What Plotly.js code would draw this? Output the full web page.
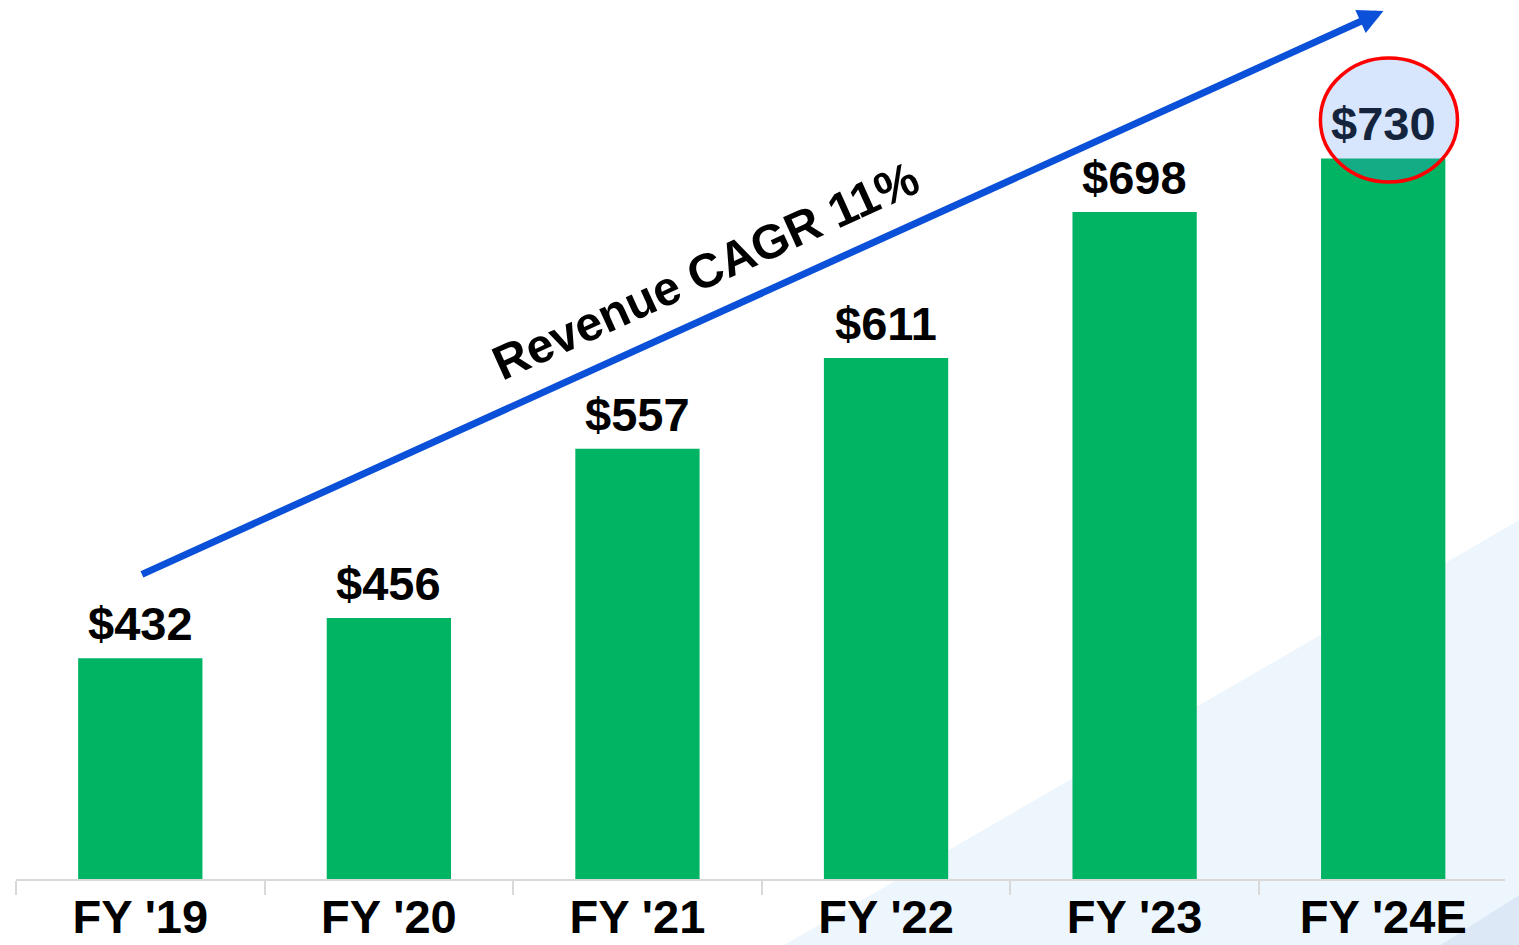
<!DOCTYPE html>
<html>
<head>
<meta charset="utf-8">
<script src="https://cdn.plot.ly/plotly-3.0.1.min.js"></script>
<style>
html,body{margin:0;padding:0;background:#ffffff;}
#chart{width:1519px;height:945px;}
</style>
</head>
<body>
<div id="chart"></div>
<script>
const categories = ["FY '19", "FY '20", "FY '21", "FY '22", "FY '23", "FY '24E"];
const revenue = [432, 456, 557, 611, 698, 730];
const valueLabels = ["$432", "$456", "$557", "$611", "$698", "$730"];
const cagrLabel = "Revenue CAGR 11%";

const FONT = "Liberation Sans, Arial, Helvetica, sans-serif";
const GREEN = "#00b464";
const BLUE = "#0a50d8";

// layout geometry (pixels)
const W = 1519, H = 945;
const ML = 16, MT = 0, MB = 66;
const XMAX = 5.49;
const PW = (XMAX + 0.5) * 248.5;
const MR = W - ML - PW;
const PH = H - MT - MB;
const px = v => (v - ML) / PW;
const py = v => (H - MB - v) / PH;

const trace = {
  type: "bar",
  x: categories,
  y: revenue,
  width: 0.5,
  marker: {color: GREEN, line: {width: 0}},
  hoverinfo: "skip"
};

const labelAnnotations = categories.map((c, i) => ({
  x: c, y: revenue[i], xref: "x", yref: "y",
  text: valueLabels[i],
  showarrow: false,
  xanchor: "center", yanchor: "bottom",
  yshift: 6,
  font: {family: FONT, size: 47, weight: 700,
         color: i === categories.length - 1 ? "#15243d" : "#000000"}
}));

const annotations = labelAnnotations.concat([
  {
    xref: "paper", yref: "paper", x: px(1383), y: py(11),
    axref: "pixel", ayref: "pixel", ax: 140 - 1383, ay: 575 - 11,
    text: "", showarrow: true,
    arrowhead: 2, arrowsize: 0.72, arrowwidth: 7, arrowcolor: BLUE,
    standoff: 0, startstandoff: 0
  },
  {
    xref: "paper", yref: "paper", x: px(706), y: py(271),
    text: cagrLabel, showarrow: false, textangle: -24.4,
    xanchor: "center", yanchor: "middle",
    font: {family: FONT, size: 48, weight: 700, color: "#000000"}
  }
]);

const shapes = [
  {type: "path", xref: "paper", yref: "paper", layer: "below",
   path: `M${px(784)},${py(945)} L${px(1519)},${py(520)} L${px(1519)},${py(945)} Z`,
   fillcolor: "#eef6fd", line: {width: 0}},
  {type: "path", xref: "paper", yref: "paper", layer: "below",
   path: `M${px(1440)},${py(945)} L${px(1519)},${py(895)} L${px(1519)},${py(945)} Z`,
   fillcolor: "#dce8f6", line: {width: 0}},
  {type: "circle", xref: "paper", yref: "paper", layer: "above",
   x0: px(1320), x1: px(1457),
   y0: py(182), y1: py(58),
   fillcolor: "rgba(84,149,242,0.23)",
   line: {color: "#ff0000", width: 3.5}}
];

const layout = {
  width: W, height: H,
  margin: {l: ML, r: MR, t: MT, b: MB, pad: 0},
  paper_bgcolor: "#ffffff",
  plot_bgcolor: "rgba(0,0,0,0)",
  showlegend: false,
  xaxis: {
    type: "category",
    range: [-0.5, XMAX],
    showgrid: false, zeroline: false,
    showline: true, linecolor: "#d9d9d9", linewidth: 2,
    ticks: "outside", tickson: "boundaries", ticklen: 14, tickwidth: 2, tickcolor: "#d9d9d9",
    ticklabelstandoff: -4,
    tickfont: {family: FONT, size: 47, weight: 700, color: "#000000"},
    fixedrange: true
  },
  yaxis: {
    range: [300.5, 824.4],
    visible: false, showgrid: false, zeroline: false, fixedrange: true
  },
  annotations: annotations,
  shapes: shapes
};

Plotly.newPlot("chart", [trace], layout, {displayModeBar: false, staticPlot: true});
</script>
</body>
</html>
